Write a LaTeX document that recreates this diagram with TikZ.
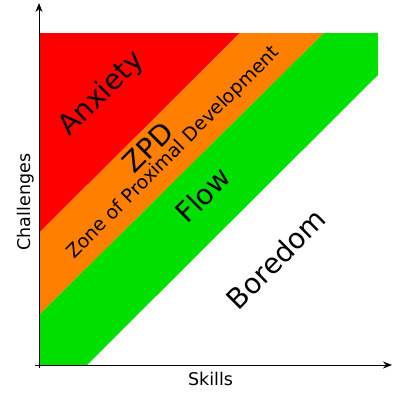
\documentclass[tikz,border=0pt]{standalone}
\usepackage{fontspec}
\setmainfont{DejaVu Sans}
\usetikzlibrary{arrows.meta}
\definecolor{zred}{RGB}{255,0,0}
\definecolor{zorange}{RGB}{255,128,0}
\definecolor{zgreen}{RGB}{0,224,0}
\tikzset{
  biglabel/.style={rotate=45, inner sep=0pt, font=\fontsize{28}{32}\selectfont},
  smalllabel/.style={rotate=45, inner sep=0pt, font=\fontsize{18.8}{22}\selectfont},
  axislabel/.style={inner sep=0pt, font=\fontsize{17.5}{21}\selectfont},
  axis/.style={line width=1pt, black, -{Stealth[length=9pt, width=7pt]}}
}
\begin{document}
\begin{tikzpicture}[x=1pt, y=-1pt]
\useasboundingbox (0,0) rectangle (403,394);
% zones
\fill[zred] (39,33) -- (240,33) -- (39,233) -- cycle;
\fill[zorange] (240,33) -- (324,33) -- (39,315) -- (39,233) -- cycle;
\fill[zgreen] (324,33) -- (378,33) -- (378,75) -- (87,365) -- (39,365) -- (39,315) -- cycle;
% axes
\coordinate (xs) at (35,365);
\coordinate (xe) at (392,365);
\coordinate (ys) at (39,368);
\coordinate (ye) at (39,3);
\draw[axis] (xs) -- (xe);
\draw[axis] (ys) -- (ye);
% labels
\node[biglabel] (anx) at (102,94) {Anxiety};
\node[biglabel] (zpd) at (148,147) {ZPD};
\node[smalllabel] (zone) at (173.5,153) {Zone of Proximal Development};
\node[biglabel] (flow) at (203,195) {Flow};
\node[biglabel] (bore) at (276,259) {Boredom};
\node[axislabel] (skills) at (210.5,378.5) {Skills};
\node[axislabel, rotate=90] (chal) at (25.5,202) {Challenges};
\end{tikzpicture}
\end{document}
